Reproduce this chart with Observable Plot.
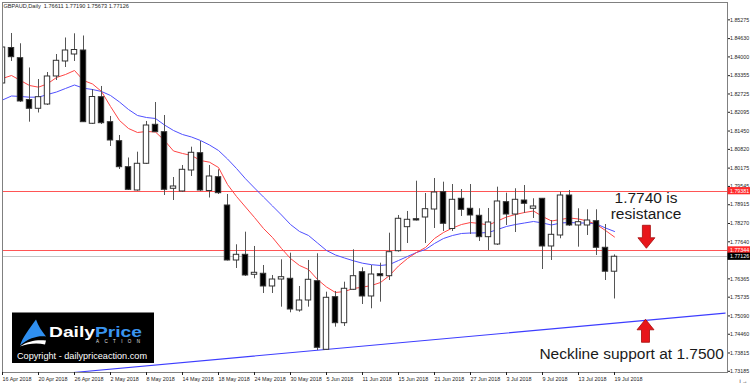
<!DOCTYPE html>
<html><head><meta charset="utf-8">
<script src="https://cdn.jsdelivr.net/npm/d3@7"></script>
<script src="https://cdn.jsdelivr.net/npm/@observablehq/plot@0.6"></script>
<style>html,body{margin:0;padding:0;background:#fff;}#chart{width:750px;height:385px;overflow:hidden;}</style>
</head><body><div id="chart"></div>
<script>
// ---- data (GBPAUD daily, 16 Apr 2018 .. 19 Jul 2018, one entry per trading day) ----
const opens  = [1.83086,1.84307,1.83956,1.82518,1.82216,1.82363,1.83327,1.83843,1.84083,1.84221,1.81700,1.82615,1.81755,1.81101,1.80207,1.79405,1.80324,1.81665,1.81411,1.79464,1.79371,1.80093,1.80688,1.79388,1.79863,1.78889,1.76997,1.77193,1.76505,1.76540,1.76103,1.76343,1.76368,1.75277,1.75621,1.76285,1.73925,1.75735,1.74840,1.75989,1.76595,1.75759,1.76526,1.76457,1.77317,1.78143,1.78418,1.78476,1.78751,1.79347,1.78081,1.79120,1.78776,1.78535,1.77799,1.77547,1.79003,1.78579,1.79061,1.78776,1.79120,1.77479,1.77857,1.79233,1.78201,1.78201,1.78349,1.77434,1.76611];
const highs  = [1.84565,1.84806,1.84452,1.83619,1.83223,1.83464,1.84083,1.84651,1.84795,1.84720,1.82879,1.82983,1.81951,1.81297,1.80523,1.80723,1.81779,1.82432,1.81985,1.79852,1.80265,1.80895,1.81091,1.80265,1.80117,1.79267,1.77537,1.77971,1.77479,1.76825,1.76481,1.77021,1.77248,1.76103,1.76997,1.77228,1.75907,1.75931,1.76251,1.77365,1.76746,1.76825,1.76904,1.77936,1.78545,1.78683,1.79725,1.79302,1.79818,1.79691,1.79611,1.79439,1.79611,1.78776,1.78786,1.79519,1.79312,1.79464,1.79577,1.79120,1.79130,1.78373,1.79347,1.79405,1.78776,1.78741,1.78741,1.78235,1.77190];
const lows   = [1.83017,1.83843,1.82432,1.81755,1.82071,1.82329,1.83189,1.83636,1.83843,1.81744,1.81675,1.81675,1.80919,1.80127,1.79405,1.79381,1.80299,1.81400,1.79233,1.79061,1.79347,1.79887,1.79371,1.79147,1.79267,1.76980,1.76722,1.76447,1.76368,1.75862,1.75862,1.75391,1.75198,1.75219,1.75391,1.73901,1.73901,1.74703,1.74727,1.75965,1.75483,1.75336,1.75563,1.76309,1.77283,1.77582,1.78356,1.77582,1.78098,1.77995,1.77995,1.78511,1.77891,1.77651,1.77341,1.77513,1.78201,1.77960,1.78614,1.78442,1.76687,1.76997,1.77744,1.78167,1.77455,1.77857,1.77169,1.76309,1.75673];
const closes = [1.84324,1.83991,1.82467,1.82216,1.82615,1.83327,1.83867,1.84221,1.84238,1.81755,1.82621,1.81720,1.81125,1.80207,1.79429,1.80324,1.81641,1.81411,1.79429,1.79543,1.80117,1.80702,1.79405,1.79887,1.79312,1.76997,1.77193,1.76481,1.76574,1.76103,1.76343,1.76423,1.75311,1.75621,1.76333,1.73994,1.75714,1.74840,1.76024,1.76457,1.75759,1.76515,1.76457,1.77283,1.78432,1.78397,1.78373,1.78762,1.79336,1.78260,1.79085,1.78741,1.78545,1.77799,1.78304,1.79027,1.78579,1.79085,1.78948,1.78855,1.77479,1.77881,1.79233,1.78201,1.78315,1.78373,1.77434,1.76611,1.77126];
const maFast = [1.83258,1.83361,1.83189,1.83017,1.82959,1.83076,1.83292,1.83395,1.83533,1.83189,1.83069,1.82811,1.82295,1.81813,1.81538,1.81400,1.81435,1.81417,1.81125,1.80764,1.80678,1.80609,1.80437,1.80379,1.80196,1.79611,1.79199,1.78837,1.78476,1.78098,1.77788,1.77410,1.77066,1.76825,1.76687,1.76343,1.76085,1.75896,1.75931,1.76034,1.76079,1.76137,1.76240,1.76481,1.76808,1.77066,1.77272,1.77444,1.77754,1.77960,1.78115,1.78235,1.78304,1.78270,1.78218,1.78356,1.78493,1.78579,1.78648,1.78700,1.78511,1.78356,1.78407,1.78459,1.78425,1.78356,1.78235,1.78029,1.77805];
const maSlow = [1.82518,1.82656,1.82639,1.82615,1.82615,1.82707,1.82793,1.82914,1.83034,1.82924,1.82879,1.82811,1.82673,1.82449,1.82191,1.81985,1.81916,1.81882,1.81658,1.81469,1.81331,1.81245,1.81125,1.80970,1.80781,1.80489,1.80162,1.79808,1.79491,1.79181,1.78872,1.78562,1.78235,1.77995,1.77857,1.77599,1.77341,1.77186,1.77083,1.76987,1.76904,1.76853,1.76825,1.76859,1.76997,1.77135,1.77272,1.77375,1.77582,1.77754,1.77857,1.77926,1.77943,1.77943,1.77960,1.78063,1.78167,1.78235,1.78287,1.78339,1.78287,1.78218,1.78287,1.78304,1.78287,1.78287,1.78253,1.78115,1.77995];

const dateTickIndex = [0,4,8,12,16,20,24,28,32,36,40,44,48,52,56,60,64,68];
const dateLabels = ["16 Apr 2018","20 Apr 2018","26 Apr 2018","2 May 2018","8 May 2018","14 May 2018","18 May 2018","24 May 2018","30 May 2018","5 Jun 2018","11 Jun 2018","15 Jun 2018","21 Jun 2018","27 Jun 2018","3 Jul 2018","9 Jul 2018","13 Jul 2018","19 Jul 2018"];
const priceTicks = [1.85275,1.84630,1.84000,1.83355,1.82725,1.82095,1.81450,1.80820,1.80175,1.79545,1.78915,1.78270,1.77640,1.76365,1.75735,1.75090,1.74460,1.73815,1.73185];

const levelLines = [1.79381, 1.77344];
const bidLine = [1.77126];
const priceTags = [
  {price: 1.79381, bg: "#ff2a2a", fg: "#fff"},
  {price: 1.77344, bg: "#ff2a2a", fg: "#fff"},
  {price: 1.77126, bg: "#000000", fg: "#fff"}
];
const trendIndex = [7.9, 80.3];
const trendPrice = [1.73144, 1.75188];
const titleText = "GBPAUD,Daily  1.76611 1.77190 1.75673 1.77126";
const noteIndex = [71.5, 71.5, 69.9];
const notePrice = [1.79147, 1.78597, 1.73763];
const noteText = ["1.7740 is", "resistance", "Neckline support at 1.7500"];
const arrowIndex = [71.6, 71.5];
const arrowPrice = [1.77400, 1.74957];
const arrowDir = [1, -1]; // 1 = pointing down, -1 = pointing up

// ---- tables built from the arrays ----
const candles = opens.map((o, i) => ({i, o, h: highs[i], l: lows[i], c: closes[i]}));
const trend = trendIndex.map((i, k) => ({i, p: trendPrice[k]}));
const notes = noteText.map((t, k) => ({i: noteIndex[k], p: notePrice[k], t}));
const arrows = arrowIndex.map((i, k) => ({i, p: arrowPrice[k], d: arrowDir[k]}));
const fmtDate = d => dateLabels[dateTickIndex.indexOf(d)];
const FONT = "Liberation Sans, Arial, sans-serif";

function arrowMark(index, scales) {
  const g = d3.create("svg:g");
  for (const a of arrows) {
    const cx = scales.x(a.i), ty = scales.y(a.p), s = a.d;
    const hb = ty - s * 10.5, tail = ty - s * 23;
    const pts = [[cx, ty], [cx - 8.5, hb], [cx - 4, hb], [cx - 4, tail], [cx + 4, tail], [cx + 4, hb], [cx + 8.5, hb]];
    g.append("polygon").attr("points", pts.map(p => p.join(",")).join(" "))
      .attr("fill", "#e8161b").attr("stroke", "#a30b0b").attr("stroke-width", 0.8);
  }
  return g.node();
}

function tagMark(index, scales, values, dims) {
  const g = d3.create("svg:g").attr("text-anchor", "start");
  const x0 = dims.width - dims.marginRight + 0.5;
  for (const t of priceTags) {
    const y = scales.y(t.price);
    g.append("rect").attr("x", x0).attr("y", y - 3.6).attr("width", 24).attr("height", 7.2).attr("fill", t.bg);
    g.append("text").attr("x", x0 + 2.5).attr("y", y + 1.9).attr("fill", t.fg).attr("text-anchor", "start")
      .attr("font-size", 5.3).attr("font-family", FONT).text(t.price.toFixed(5));
  }
  return g.node();
}

function logoMark(index, scales, values, dims) {
  const x0 = dims.marginLeft + 10, y0 = dims.height - dims.marginBottom - 59.5;
  const g = d3.create("svg:g").attr("transform", `translate(${x0},${y0})`).attr("text-anchor", "start");
  g.append("rect").attr("width", 142).attr("height", 50.5).attr("fill", "#000");
  g.append("path").attr("d", "M8,33 C11,24 17,17 24,7 C26,13 30,19 34,24 C27,23 17,25 8,33 Z").attr("fill", "#2f8ff0");
  g.append("path").attr("d", "M8,34 C16,28 26,27 34,28 L33,32 C25,30 16,31 8,34 Z").attr("fill", "#ffffff");
  const t = g.append("text").attr("x", 37).attr("y", 24.6).attr("font-family", FONT).attr("text-anchor", "start")
    .attr("font-weight", "bold").attr("font-size", 14.5).attr("textLength", 93).attr("lengthAdjust", "spacingAndGlyphs");
  t.append("tspan").attr("fill", "#ffffff").text("Daily");
  t.append("tspan").attr("fill", "#3a95f0").text("Price");
  g.append("text").attr("x", 84).attr("y", 30.3).attr("font-family", FONT).attr("text-anchor", "start")
    .attr("font-size", 4.5).attr("fill", "#e0e0e0").attr("textLength", 44).attr("lengthAdjust", "spacing").text("ACTION");
  g.append("text").attr("x", 5).attr("y", 46).attr("font-family", FONT).attr("text-anchor", "start")
    .attr("font-size", 9.2).attr("fill", "#ffffff").attr("textLength", 130).attr("lengthAdjust", "spacingAndGlyphs")
    .text("Copyright - dailypriceaction.com");
  return g.node();
}

const chart = Plot.plot({
  width: 750, height: 385,
  marginTop: 2, marginBottom: 13, marginLeft: 2, marginRight: 23,
  x: {domain: [0, 725 / 9]},
  y: {domain: [1.73144, 1.85872]},
  style: {fontFamily: FONT, fontSize: "5.6px", color: "#1e1e1e", background: "#fff", overflow: "visible"},
  marks: [
    Plot.ruleY(bidLine, {stroke: "#c4c4c4", strokeWidth: 1, shapeRendering: "crispEdges"}),
    Plot.ruleY(levelLines, {stroke: "#ff5555", strokeWidth: 1, shapeRendering: "crispEdges"}),
    Plot.line(trend, {x: "i", y: "p", stroke: "#3d3dff", strokeWidth: 1.1, clip: true}),
    Plot.line(maSlow, {x: (d, i) => i, y: d => d, stroke: "#5050ff", strokeWidth: 1, clip: true}),
    Plot.line(maFast, {x: (d, i) => i, y: d => d, stroke: "#ff4545", strokeWidth: 1, clip: true}),
    Plot.ruleX(candles, {x: "i", y1: "l", y2: "h", stroke: "#555", strokeWidth: 1, clip: true}),
    Plot.rect(candles, {x1: d => d.i - 0.3, x2: d => d.i + 0.3, y1: "o", y2: "c",
      fill: d => d.c >= d.o ? "#fff" : "#000", stroke: "#333", strokeWidth: 1, clip: true}),
    Plot.frame({stroke: "#808080"}),
    Plot.axisX(dateTickIndex, {anchor: "bottom", tickSize: 3, tickPadding: 1.5, fontSize: 5.4, textAnchor: "start", tickFormat: fmtDate}),
    Plot.axisY(priceTicks, {anchor: "right", tickSize: 2, tickPadding: 0.5, fontSize: 5.3, tickFormat: d => d.toFixed(5)}),
    tagMark,
    Plot.text([titleText], {frameAnchor: "top-left", dx: 1, dy: 2, textAnchor: "start", lineAnchor: "top", fontSize: 5.6, fill: "#1e1e1e"}),
    Plot.text(notes, {x: "i", y: "p", text: "t", fontSize: 15.5, fill: "#1a1a1a", textAnchor: "middle", lineAnchor: "middle"}),
    arrowMark,
    logoMark
  ]
});
document.getElementById("chart").appendChild(chart);
</script>
</body></html>
